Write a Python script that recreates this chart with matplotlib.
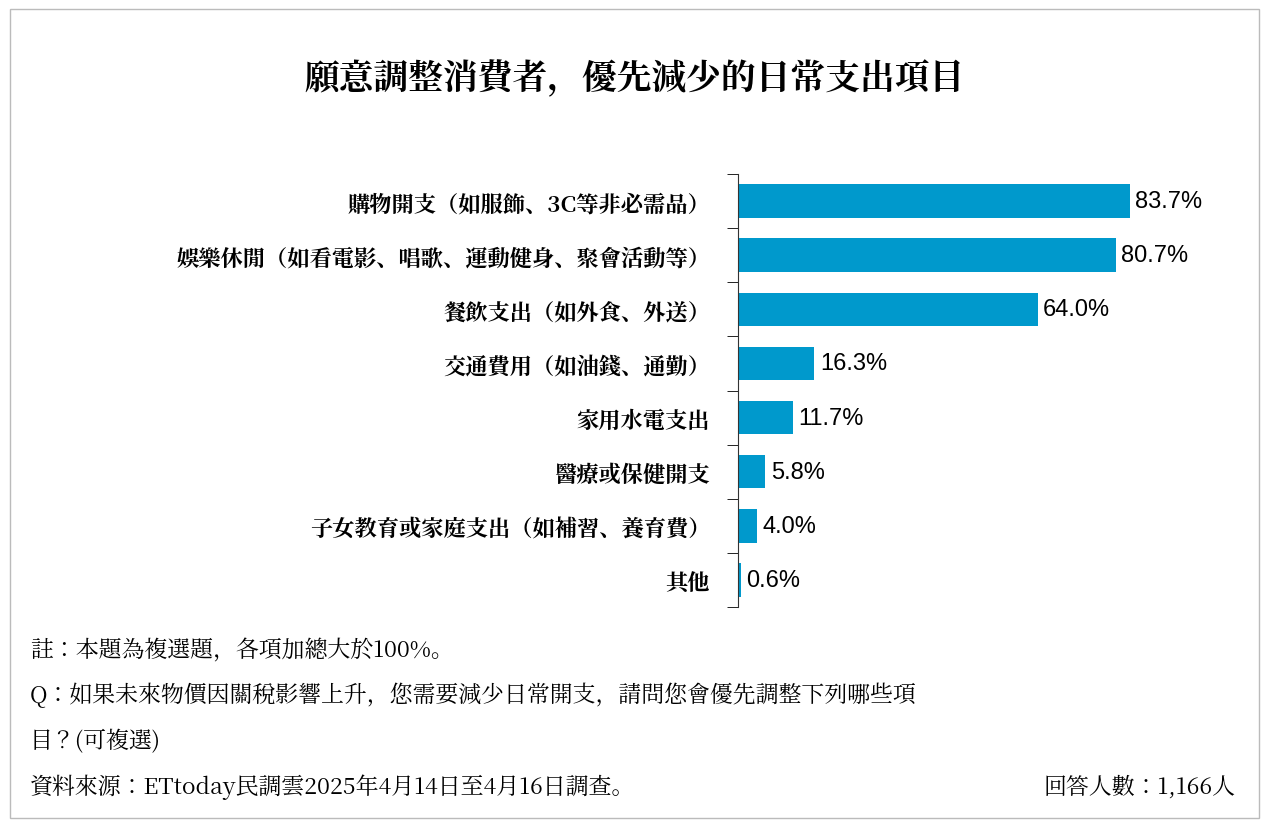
import matplotlib
matplotlib.use("Agg")
import matplotlib.pyplot as plt
from matplotlib.patches import Rectangle
from matplotlib import font_manager as fm
import glob

cjk = None
for f in fm.fontManager.ttflist:
    if "CJK" in f.name and ("TC" in f.name or "JP" in f.name or "SC" in f.name):
        cjk = f.name
        if "TC" in f.name:
            break
if cjk is None:
    for p in glob.glob("/usr/share/fonts/**/*CJK*", recursive=True):
        try:
            fm.fontManager.addfont(p)
        except Exception:
            pass
    for f in fm.fontManager.ttflist:
        if "CJK" in f.name:
            cjk = f.name
            break
plt.rcParams["font.family"] = [cjk or "Noto Sans CJK TC", "DejaVu Sans"]

categories = ["購物開支（如服飾、3C等非必需品）", "娛樂休閒（如看電影、唱歌、運動健身、聚會活動等）",
              "餐飲支出（如外食、外送）", "交通費用（如油錢、通勤）", "家用水電支出",
              "醫療或保健開支", "子女教育或家庭支出（如補習、養育費）", "其他"]
values = [83.7, 80.7, 64.0, 16.3, 11.7, 5.8, 4.0, 0.6]

W, H = 1269, 829
fig = plt.figure(figsize=(W/100, H/100), dpi=100)
fig.patches.append(Rectangle((10/W, 10/H), 1249/W, 809/H, transform=fig.transFigure,
                             fill=False, edgecolor="#BBBBBB", linewidth=1))

ax = fig.add_axes([738/W, 1-608/H, 468/W, 433/H])
n = len(categories)
ys = list(range(n))
ax.barh(ys, values, height=0.62, color="#0099CC")
ax.set_ylim(n-0.5, -0.5)
ax.set_xlim(0, 100)
for y, v in zip(ys, values):
    ax.text(v + 1.2, y, f"{v:.1f}%", va="center", ha="left", fontsize=17, family="Liberation Sans")
ax.set_yticks(ys)
ax.set_yticklabels(categories, fontsize=16, fontweight="bold")
ax.tick_params(axis="y", which="major", length=0, pad=20)
ax.set_yticks([i - 0.5 for i in range(n+1)], minor=True)
ax.tick_params(axis="y", which="minor", length=8, direction="out")
ax.set_xticks([])
for s in ["top", "right", "bottom"]:
    ax.spines[s].set_visible(False)
ax.spines["left"].set_color("#333333")

fig.text(0.5, 1-80/H, "願意調整消費者，優先減少的日常支出項目", ha="center", va="center",
         fontsize=25, fontweight="bold")
fs = 16.5
fig.text(30/W, 1-651/H, "註：本題為複選題，各項加總大於100%。", va="center", fontsize=fs)
fig.text(30/W, 1-695/H, "Q：如果未來物價因關稅影響上升，您需要減少日常開支，請問您會優先調整下列哪些項", va="center", fontsize=fs)
fig.text(30/W, 1-742/H, "目？(可複選)", va="center", fontsize=fs)
fig.text(30/W, 1-787/H, "資料來源：ETtoday民調雲2025年4月14日至4月16日調查。", va="center", fontsize=fs)
fig.text(1236/W, 1-787/H, "回答人數：1,166人", va="center", ha="right", fontsize=fs)

fig.savefig("out.png", dpi=100)
